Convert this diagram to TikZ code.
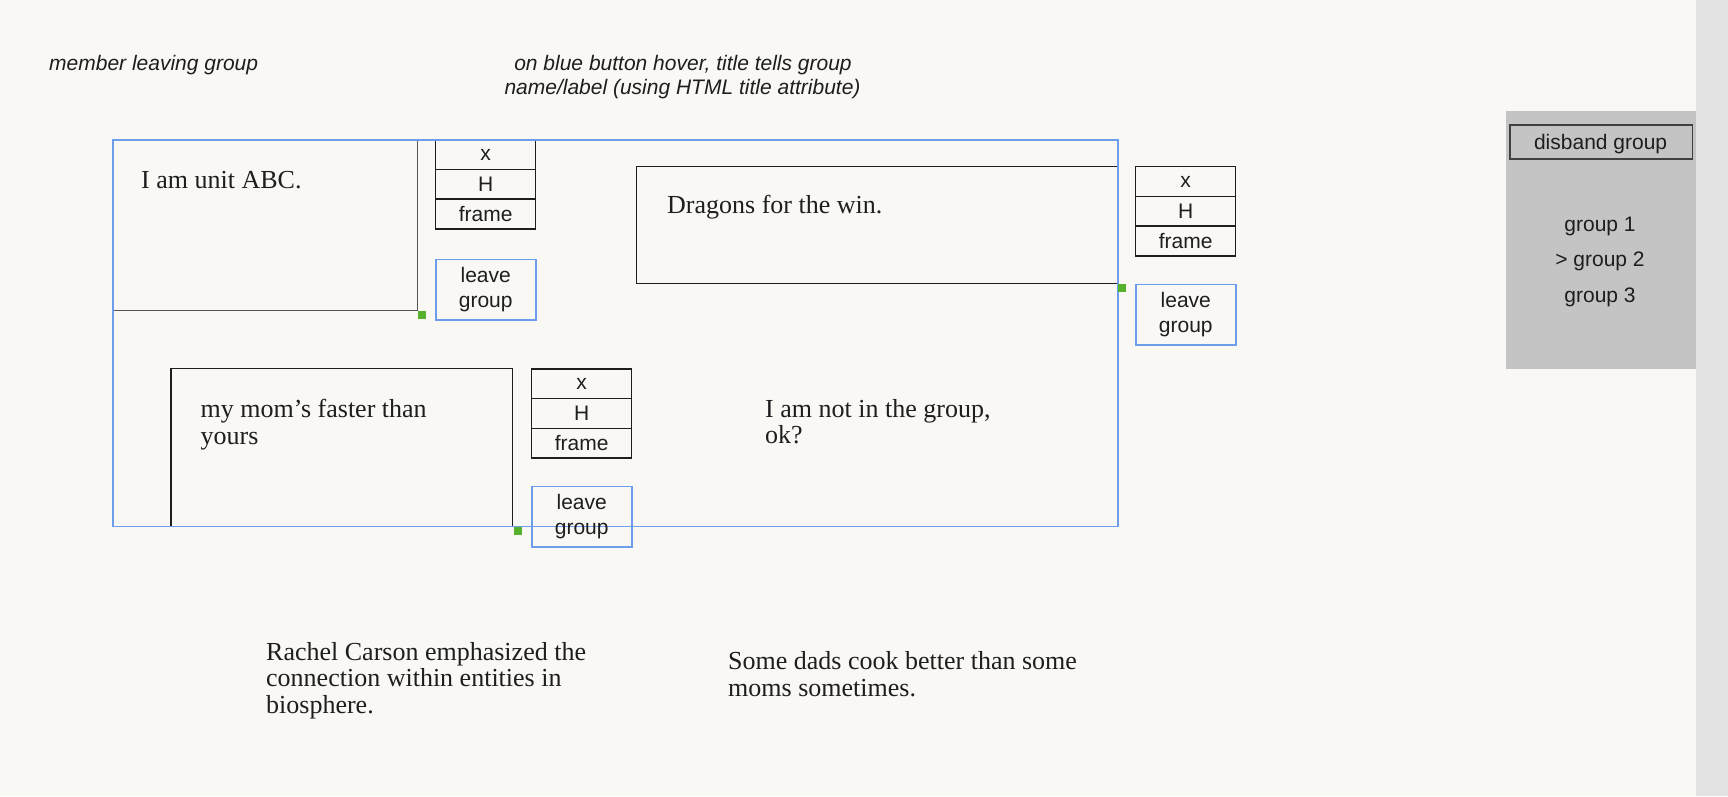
\documentclass[tikz,border=0pt]{standalone}
\usepackage{fontspec}
\setmainfont{Liberation Serif}
\setsansfont{Liberation Sans}
\definecolor{bg}{HTML}{F9F8F4}
\definecolor{bluel}{HTML}{6D9EEB}
\definecolor{greensq}{HTML}{56B22A}
\definecolor{panel}{HTML}{C4C4C4}
\definecolor{scrollc}{HTML}{E3E3E3}
\definecolor{ink}{HTML}{1E1E1E}
\definecolor{grayline}{HTML}{555555}
\tikzset{
  sansf/.style={font=\sffamily\fontsize{21}{25.3}\selectfont, text=ink},
  serift/.style={font=\rmfamily\fontsize{26}{27}\selectfont, text=ink},
  notef/.style={font=\sffamily\itshape\fontsize{21}{24}\selectfont, text=ink},
  cell/.style={draw=ink, line width=1.4pt, minimum width=100pt, minimum height=29.7pt, inner sep=0pt, anchor=north west, sansf},
  btn/.style={draw=bluel, line width=1.5pt, minimum width=100pt, minimum height=60.6pt, inner sep=0pt, anchor=north west, align=center, sansf},
  region/.style={inner sep=0pt, anchor=north west},
  sq/.style={fill=greensq, minimum size=8pt, inner sep=0pt, anchor=north west},
  txt/.style={anchor=base west, inner sep=0pt, serift},
  notet/.style={inner sep=0pt, notef},
  menut/.style={anchor=base, inner sep=0pt, sansf},
}
\begin{document}
\begin{tikzpicture}[x=1pt, y=-1pt]
\path[use as bounding box, fill=bg] (0,0) rectangle (1728,796);
% scrollbar strip and side panel
\node[region, fill=scrollc, minimum width=32pt, minimum height=796pt] (scroll) at (1696,0) {};
\node[region, fill=panel, minimum width=190pt, minimum height=257.3pt] (panel) at (1506,111) {};
\node[region, draw=ink!85, line width=1.4pt, minimum width=182.7pt, minimum height=34pt] (disband) at (1509.3,124.3) {};
\node[menut] (disbandt) at (1600.6,149.3) {disband group};
\node[menut] (g1) at (1600,231.7) {group 1};
\node[menut] (g2) at (1600,266.7) {> group 2};
\node[menut] (g3) at (1600,302) {group 3};

% notes
\node[notet, anchor=base west] (note1) at (49,70) {member leaving group};
\node[notet, anchor=base] (note2a) at (683,70) {on blue button hover, title tells group};
\node[notet, anchor=base] (note2b) at (682.5,94) {name/label (using HTML title attribute)};

% unit boxes
\node[region, minimum width=305pt, minimum height=171pt] (u1) at (112,139) {};
\draw[grayline, line width=1.5pt] (u1.north east) -- (u1.south east) -- (u1.south west);
\node[txt] (u1t) at (141,188) {I am unit ABC.};

\node[region, draw=ink, line width=1.4pt, minimum width=481pt, minimum height=116.5pt] (u2) at (636,166) {};
\node[txt] (u2t) at (667,213.3) {Dragons for the win.};

\node[region, minimum width=341pt, minimum height=157pt] (u3) at (171,368.3) {};
\draw[ink, line width=1.4pt] (u3.south west) -- (u3.north west) -- (u3.north east) -- (u3.south east);
\node[txt] (u3t1) at (200.5,417.3) {my mom’s faster than};
\node[txt] (u3t2) at (200.5,444) {yours};

\node[txt] (u4t1) at (765,417.7) {I am not in the group,};
\node[txt] (u4t2) at (765,443.3) {ok?};

% control stacks
\node[cell] (s1x) at (435,139) {x};
\node[cell] (s1h) at (435,168.7) {H};
\node[cell] (s1f) at (435,198.4) {frame};
\node[btn] (b1) at (435,258.7) {leave\\group};

\node[cell] (s2x) at (1135,166) {x};
\node[cell] (s2h) at (1135,195.7) {H};
\node[cell] (s2f) at (1135,225.4) {frame};
\node[btn] (b2) at (1135,283.7) {leave\\group};

\node[cell] (s3x) at (531,368.3) {x};
\node[cell] (s3h) at (531,398) {H};
\node[cell] (s3f) at (531,427.7) {frame};

% group frame
\node[region, draw=bluel, line width=1.5pt, minimum width=1005pt, minimum height=386.5pt] (grp) at (112,139) {};
\node[btn] (b3) at (531,485.7) {leave\\group};

% green handles
\node[sq] (h1) at (418,311) {};
\node[sq] (h2) at (1117.5,283.5) {};
\node[sq] (h3) at (513.3,526.8) {};

% bottom texts
\node[txt] (r1) at (266,660) {Rachel Carson emphasized the};
\node[txt] (r2) at (266,686.5) {connection within entities in};
\node[txt] (r3) at (266,713) {biosphere.};
\node[txt] (d1) at (728,669.3) {Some dads cook better than some};
\node[txt] (d2) at (728,696.7) {moms sometimes.};
\end{tikzpicture}
\end{document}
